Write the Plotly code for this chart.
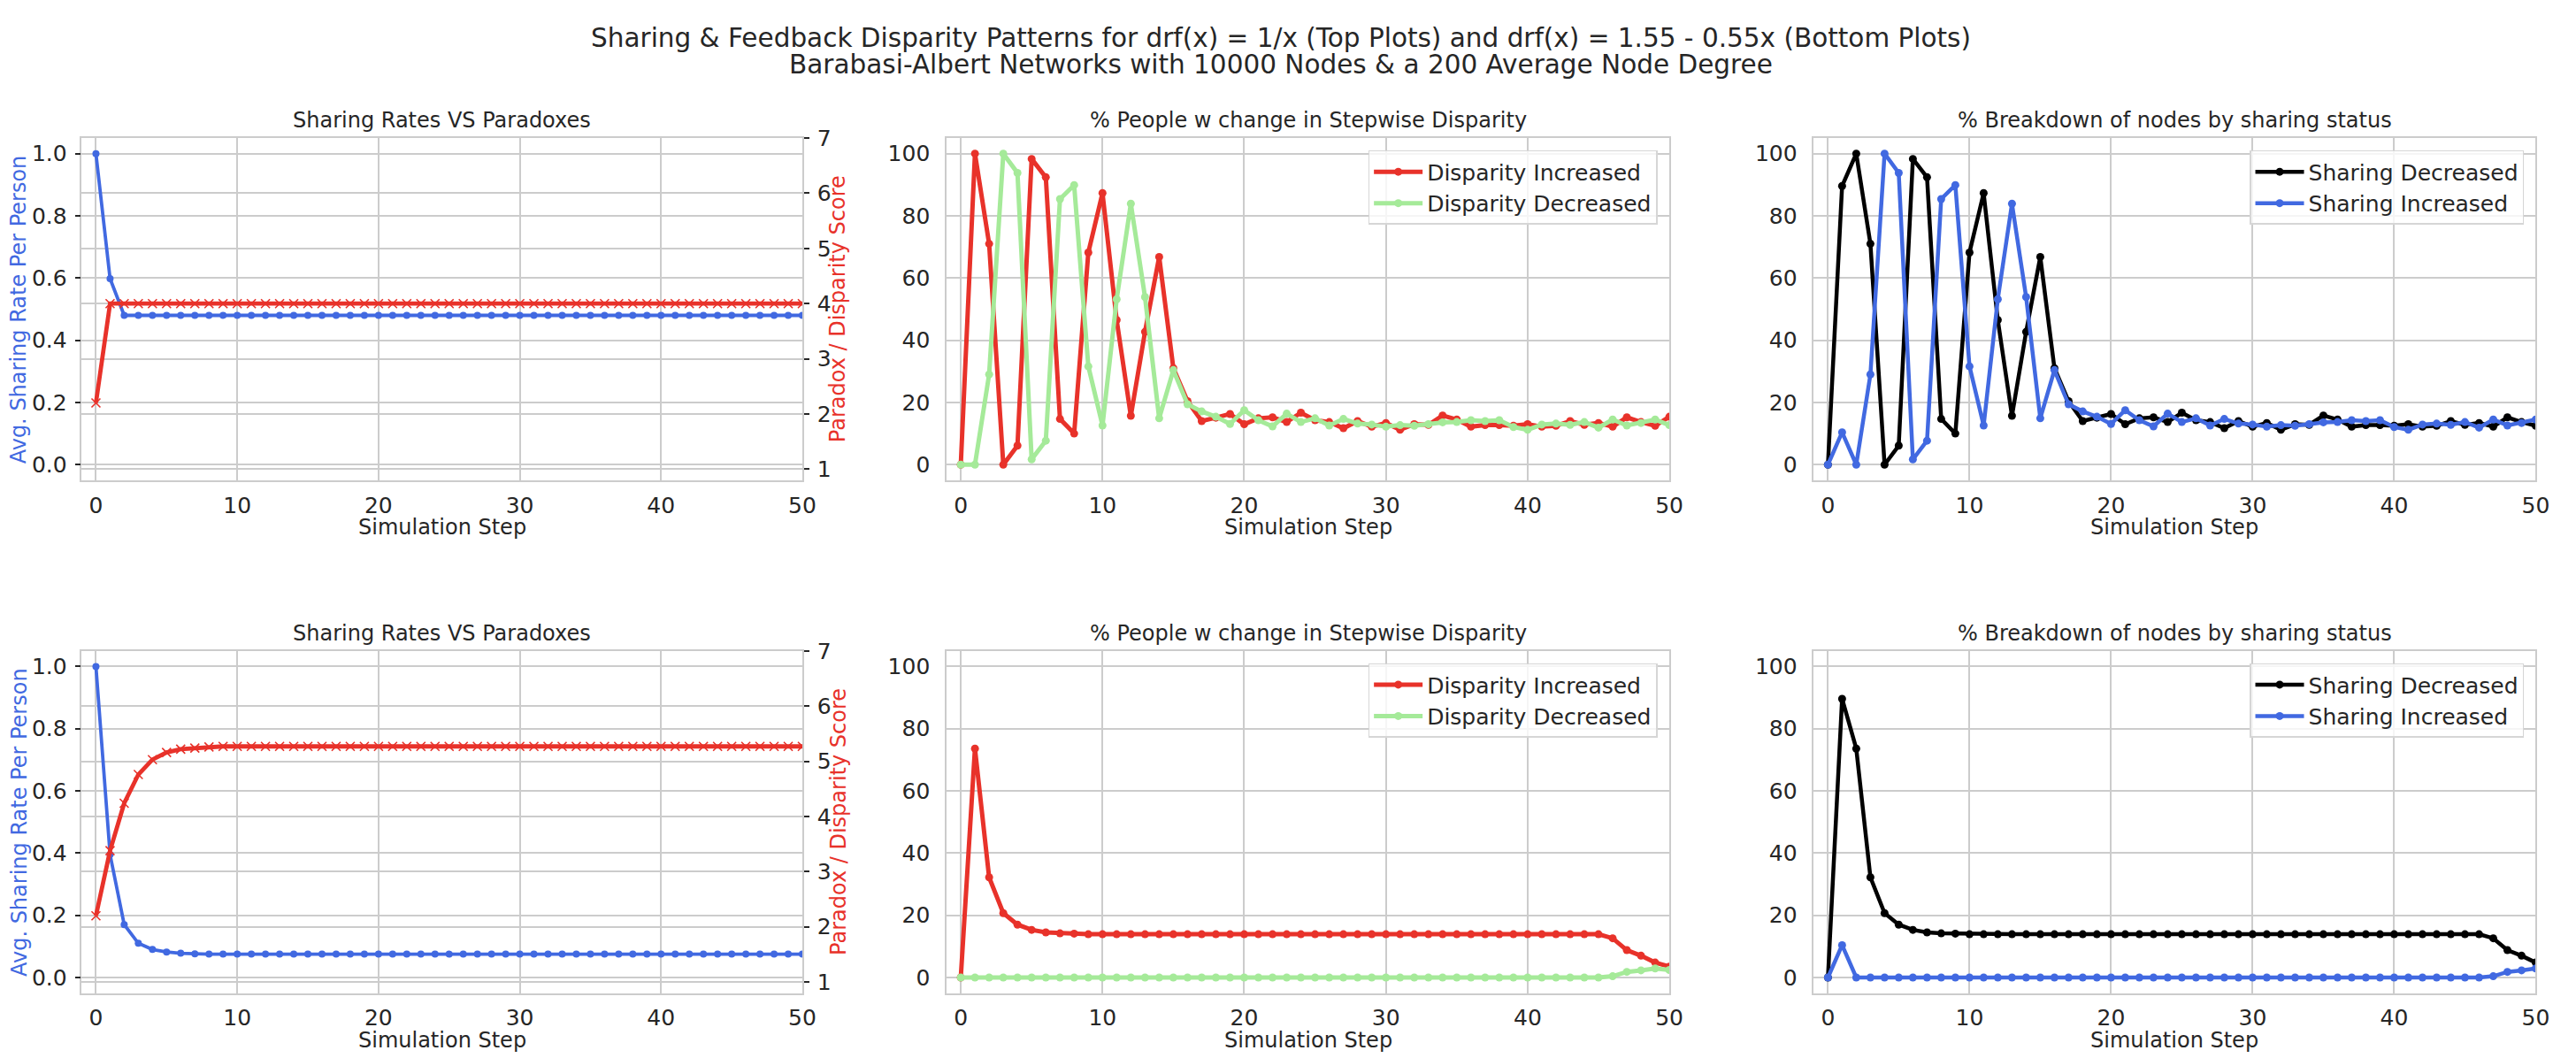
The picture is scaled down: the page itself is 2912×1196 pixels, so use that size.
import plotly.graph_objects as go

# simulation steps shared by every panel
steps = list(range(51))

# top row: drf(x) = 1/x
top_sharing_rate = [1.0, 0.598, 0.48, 0.48, 0.48, 0.48, 0.48, 0.48, 0.48, 0.48,
                    0.48, 0.48, 0.48, 0.48, 0.48, 0.48, 0.48, 0.48, 0.48, 0.48,
                    0.48, 0.48, 0.48, 0.48, 0.48, 0.48, 0.48, 0.48, 0.48, 0.48,
                    0.48, 0.48, 0.48, 0.48, 0.48, 0.48, 0.48, 0.48, 0.48, 0.48,
                    0.48, 0.48, 0.48, 0.48, 0.48, 0.48, 0.48, 0.48, 0.48, 0.48, 0.48]
top_paradox = [2.2, 4.0, 4.0, 4.0, 4.0, 4.0, 4.0, 4.0, 4.0, 4.0,
               4.0, 4.0, 4.0, 4.0, 4.0, 4.0, 4.0, 4.0, 4.0, 4.0,
               4.0, 4.0, 4.0, 4.0, 4.0, 4.0, 4.0, 4.0, 4.0, 4.0,
               4.0, 4.0, 4.0, 4.0, 4.0, 4.0, 4.0, 4.0, 4.0, 4.0,
               4.0, 4.0, 4.0, 4.0, 4.0, 4.0, 4.0, 4.0, 4.0, 4.0, 4.0]
top_disp_inc = [0, 100, 71, 0, 6.1, 98.3, 92.4, 14.7, 10.0, 68.2,
                87.3, 46.5, 15.7, 42.7, 66.8, 31, 20.4, 14.0, 15.1, 16.3,
                13.0, 14.9, 15.2, 13.7, 16.7, 14.3, 13.7, 11.7, 14.0, 12.2,
                13.4, 11.2, 13.0, 12.8, 15.8, 14.5, 12.2, 12.7, 12.7, 12.5,
                13.0, 12.2, 12.5, 14.0, 12.8, 13.4, 12.2, 15.2, 13.7, 12.5, 15.4]
top_disp_dec = [0, 0, 29.0, 100, 93.8, 1.7, 7.7, 85.4, 89.9, 31.6,
                12.6, 53.2, 83.9, 53.9, 14.9, 30.4, 19.4, 17.1, 15.4, 13.1,
                17.5, 14.3, 12.3, 16.4, 13.7, 14.9, 12.6, 14.7, 13.2, 12.9,
                12.2, 12.7, 12.5, 13.0, 13.6, 13.7, 14.3, 14.0, 14.3, 12.1,
                11.2, 12.9, 13.2, 12.8, 13.7, 11.9, 14.5, 12.6, 13.4, 14.5, 12.7]
top_share_dec = [0, 89.6, 100, 71, 0, 6.1, 98.3, 92.4, 14.7, 10.0,
                 68.2, 87.3, 46.5, 15.7, 42.7, 66.8, 31, 20.4, 14.0, 15.1,
                 16.3, 13.0, 14.9, 15.2, 13.7, 16.7, 14.3, 13.7, 11.7, 14.0,
                 12.2, 13.4, 11.2, 13.0, 12.8, 15.8, 14.5, 12.2, 12.7, 12.7,
                 12.5, 13.0, 12.2, 12.5, 14.0, 12.8, 13.4, 12.2, 15.2, 13.7, 12.5]
top_share_inc = [0, 10.4, 0, 29.0, 100, 93.8, 1.7, 7.7, 85.4, 89.9,
                 31.6, 12.6, 53.2, 83.9, 53.9, 14.9, 30.4, 19.4, 17.1, 15.4,
                 13.1, 17.5, 14.3, 12.3, 16.4, 13.7, 14.9, 12.6, 14.7, 13.2,
                 12.9, 12.2, 12.7, 12.5, 13.0, 13.6, 13.7, 14.3, 14.0, 14.3,
                 12.1, 11.2, 12.9, 13.2, 12.8, 13.7, 11.9, 14.5, 12.6, 13.4, 14.5]

# bottom row: drf(x) = 1.55 - 0.55x
bot_sharing_rate = [1.0, 0.395, 0.17, 0.11, 0.09, 0.082, 0.078, 0.076, 0.075, 0.075,
                    0.075, 0.075, 0.075, 0.075, 0.075, 0.075, 0.075, 0.075, 0.075, 0.075,
                    0.075, 0.075, 0.075, 0.075, 0.075, 0.075, 0.075, 0.075, 0.075, 0.075,
                    0.075, 0.075, 0.075, 0.075, 0.075, 0.075, 0.075, 0.075, 0.075, 0.075,
                    0.075, 0.075, 0.075, 0.075, 0.075, 0.075, 0.075, 0.075, 0.075, 0.075, 0.075]
bot_paradox = [2.2, 3.38, 4.24, 4.76, 5.03, 5.16, 5.22, 5.24, 5.26, 5.27,
               5.27, 5.27, 5.27, 5.27, 5.27, 5.27, 5.27, 5.27, 5.27, 5.27,
               5.27, 5.27, 5.27, 5.27, 5.27, 5.27, 5.27, 5.27, 5.27, 5.27,
               5.27, 5.27, 5.27, 5.27, 5.27, 5.27, 5.27, 5.27, 5.27, 5.27,
               5.27, 5.27, 5.27, 5.27, 5.27, 5.27, 5.27, 5.27, 5.27, 5.27, 5.27]
bot_disp_inc = [0, 73.6, 32.2, 20.7, 17.0, 15.3, 14.5, 14.2, 14.1, 13.9,
                13.9, 13.9, 13.9, 13.9, 13.9, 13.9, 13.9, 13.9, 13.9, 13.9,
                13.9, 13.9, 13.9, 13.9, 13.9, 13.9, 13.9, 13.9, 13.9, 13.9,
                13.9, 13.9, 13.9, 13.9, 13.9, 13.9, 13.9, 13.9, 13.9, 13.9,
                13.9, 13.9, 13.9, 13.9, 13.9, 13.9, 12.6, 8.8, 7.0, 4.8, 3.5]
bot_disp_dec = [0, 0, 0, 0, 0, 0, 0, 0, 0, 0,
                0, 0, 0, 0, 0, 0, 0, 0, 0, 0,
                0, 0, 0, 0, 0, 0, 0, 0, 0, 0,
                0, 0, 0, 0, 0, 0, 0, 0, 0, 0,
                0, 0, 0, 0, 0, 0, 0.4, 1.8, 2.3, 2.9, 2.4]
bot_share_dec = [0, 89.6, 73.6, 32.2, 20.7, 17.0, 15.3, 14.5, 14.2, 14.1,
                 13.9, 13.9, 13.9, 13.9, 13.9, 13.9, 13.9, 13.9, 13.9, 13.9,
                 13.9, 13.9, 13.9, 13.9, 13.9, 13.9, 13.9, 13.9, 13.9, 13.9,
                 13.9, 13.9, 13.9, 13.9, 13.9, 13.9, 13.9, 13.9, 13.9, 13.9,
                 13.9, 13.9, 13.9, 13.9, 13.9, 13.9, 13.9, 12.6, 8.8, 7.0, 4.8]
bot_share_inc = [0, 10.4, 0, 0, 0, 0, 0, 0, 0, 0,
                 0, 0, 0, 0, 0, 0, 0, 0, 0, 0,
                 0, 0, 0, 0, 0, 0, 0, 0, 0, 0,
                 0, 0, 0, 0, 0, 0, 0, 0, 0, 0,
                 0, 0, 0, 0, 0, 0, 0, 0.4, 1.8, 2.3, 2.9]

x_ticks = [0, 10, 20, 30, 40, 50]
rate_ticks = [0.0, 0.2, 0.4, 0.6, 0.8, 1.0]
score_ticks = [1, 2, 3, 4, 5, 6, 7]
pct_ticks = [0, 20, 40, 60, 80, 100]

title_lines = ["Sharing & Feedback Disparity Patterns for drf(x) = 1/x (Top Plots) and drf(x) = 1.55 - 0.55x (Bottom Plots)",
               "Barabasi-Albert Networks with 10000 Nodes & a 200 Average Node Degree"]
panel_titles = ["Sharing Rates VS Paradoxes", "% People w change in Stepwise Disparity",
                "% Breakdown of nodes by sharing status"]

W, H = 2912, 1196
FONT = "DejaVu Sans"
TXT = "#262626"
GRID = "#cccccc"
BLUE = "#4169e1"
RED = "#e8322a"
GREEN = "#a5ea99"
BLACK = "#000000"

# axes boxes in pixels: (left, right) per column, (top, bottom) per row
cols = [(93, 912), (1076, 1897.5), (2061.7, 2882.3)]
rows = [(144, 536), (731.6, 1123.6)]


def fx(p):
    return p / W


def fy(p):
    return 1 - p / H


fig = go.Figure()


def line(x, y, color, xa, ya, name=None, legend=None, width=5, size=9, symbol="circle"):
    marker = dict(color=color, size=size, symbol=symbol)
    if symbol == "x-thin":
        marker["line"] = dict(color=color, width=1.6)
    fig.add_trace(go.Scatter(x=x, y=y, mode="lines+markers", xaxis=xa, yaxis=ya,
                             line=dict(color=color, width=width), marker=marker,
                             name=name, showlegend=name is not None,
                             legend=legend or "legend"))


axis_font = dict(family=FONT, size=25, color=TXT)
layout = dict(width=W, height=H, margin=dict(l=0, r=0, t=0, b=0),
              paper_bgcolor="white", plot_bgcolor="white",
              font=dict(family=FONT, color=TXT), annotations=[])


def xaxis(col, anchor):
    return dict(domain=[fx(cols[col][0]), fx(cols[col][1])], anchor=anchor,
                range=[-1, 50], tickvals=x_ticks, showgrid=True, gridcolor=GRID, gridwidth=1.5,
                showline=True, linecolor=GRID, linewidth=1.5, mirror=True, zeroline=False,
                ticks="", tickfont=axis_font, ticklabelstandoff=5)


def yaxis(row, anchor, rng, ticks, fmt=None, tickmarks=False, **extra):
    d = dict(domain=[fy(rows[row][1]), fy(rows[row][0])], anchor=anchor, range=rng,
             tickvals=ticks, showgrid=True, gridcolor=GRID, gridwidth=1.5,
             showline=True, linecolor=GRID, linewidth=1.5, mirror=True, zeroline=False,
             tickfont=axis_font)
    if fmt:
        d["tickformat"] = fmt
    if tickmarks:
        d.update(ticks="outside", ticklen=6, tickwidth=1.5, tickcolor=TXT, ticklabelstandoff=4)
    else:
        d.update(ticks="", ticklabelstandoff=12)
    d.update(extra)
    return d


data_rows = [
    (top_sharing_rate, top_paradox, top_disp_inc, top_disp_dec, top_share_dec, top_share_inc),
    (bot_sharing_rate, bot_paradox, bot_disp_inc, bot_disp_dec, bot_share_dec, bot_share_inc),
]

for r, (rate, paradox, dinc, ddec, sdec, sinc) in enumerate(data_rows):
    xi = 3 * r + 1
    yi = 4 * r + 1
    xs = ["x%d" % (xi + k) if xi + k > 1 else "x" for k in range(3)]
    ys = ["y%d" % (yi + k) if yi + k > 1 else "y" for k in range(4)]
    xkeys = ["xaxis%d" % (xi + k) if xi + k > 1 else "xaxis" for k in range(3)]
    ykeys = ["yaxis%d" % (yi + k) if yi + k > 1 else "yaxis" for k in range(4)]

    layout[xkeys[0]] = xaxis(0, ys[0])
    layout[xkeys[1]] = xaxis(1, ys[2])
    layout[xkeys[2]] = xaxis(2, ys[3])

    layout[ykeys[0]] = yaxis(r, xs[0], [-0.05, 1.05], rate_ticks, fmt=".1f", tickmarks=True)
    layout[ykeys[1]] = yaxis(r, xs[0], [0.8, 7], score_ticks, tickmarks=True,
                             overlaying=ys[0], side="right")
    layout[ykeys[2]] = yaxis(r, xs[1], [-5, 105], pct_ticks)
    layout[ykeys[3]] = yaxis(r, xs[2], [-5, 105], pct_ticks)

    line(steps, rate, BLUE, xs[0], ys[0], width=3.8, size=8)
    line(steps, paradox, RED, xs[0], ys[1], width=4.8, size=10, symbol="x-thin")

    leg_a = "legend%d" % (2 * r + 1) if r else "legend"
    leg_b = "legend%d" % (2 * r + 2)
    line(steps, dinc, RED, xs[1], ys[2], name="Disparity Increased", legend=leg_a)
    line(steps, ddec, GREEN, xs[1], ys[2], name="Disparity Decreased", legend=leg_a)
    line(steps, sdec, BLACK, xs[2], ys[3], name="Sharing Decreased", legend=leg_b, width=4.5)
    line(steps, sinc, BLUE, xs[2], ys[3], name="Sharing Increased", legend=leg_b, width=4.5)

    top, bottom = rows[r]
    legend_style = dict(xanchor="right", yanchor="top", y=fy(top + 14), itemwidth=55,
                        bgcolor="rgba(255,255,255,0.8)", bordercolor="#d6d6d6", borderwidth=1.5,
                        font=dict(family=FONT, size=25, color=TXT), tracegroupgap=0)
    layout[leg_a] = dict(legend_style, x=fx(cols[1][1] - 13.5))
    layout[leg_b] = dict(legend_style, x=fx(cols[2][1] - 13.5))

    for k in range(3):
        cx = fx((cols[k][0] + cols[k][1]) / 2)
        layout["annotations"].append(dict(
            text=panel_titles[k], xref="paper", yref="paper", x=cx, y=fy(top),
            xanchor="center", yanchor="bottom", yshift=4, showarrow=False,
            font=dict(family=FONT, size=24, color=TXT)))
        layout["annotations"].append(dict(
            text="Simulation Step", xref="paper", yref="paper", x=cx, y=fy(bottom + 54),
            xanchor="center", yanchor="middle", showarrow=False,
            font=dict(family=FONT, size=24, color=TXT)))

    mid = fy((top + bottom) / 2)
    layout["annotations"].append(dict(
        text="Avg. Sharing Rate Per Person", xref="paper", yref="paper", x=fx(22), y=mid,
        xanchor="center", yanchor="middle", textangle=-90, showarrow=False,
        font=dict(family=FONT, size=24, color=BLUE)))
    layout["annotations"].append(dict(
        text="Paradox / Disparity Score", xref="paper", yref="paper", x=fx(953), y=mid,
        xanchor="center", yanchor="middle", textangle=-90, showarrow=False,
        font=dict(family=FONT, size=24, color=RED)))

for i, t in enumerate(title_lines):
    layout["annotations"].append(dict(
        text=t, xref="paper", yref="paper", x=0.5, y=fy(29 + 31 * i), xanchor="center",
        yanchor="middle", showarrow=False, font=dict(family=FONT, size=29.5, color=TXT)))

fig.update_layout(**layout)
# drop the browser's default body margin so the figure sits at the page origin
fig.write_html("out.html", config={"displayModeBar": False},
               post_script="document.body.style.margin = '0';")
